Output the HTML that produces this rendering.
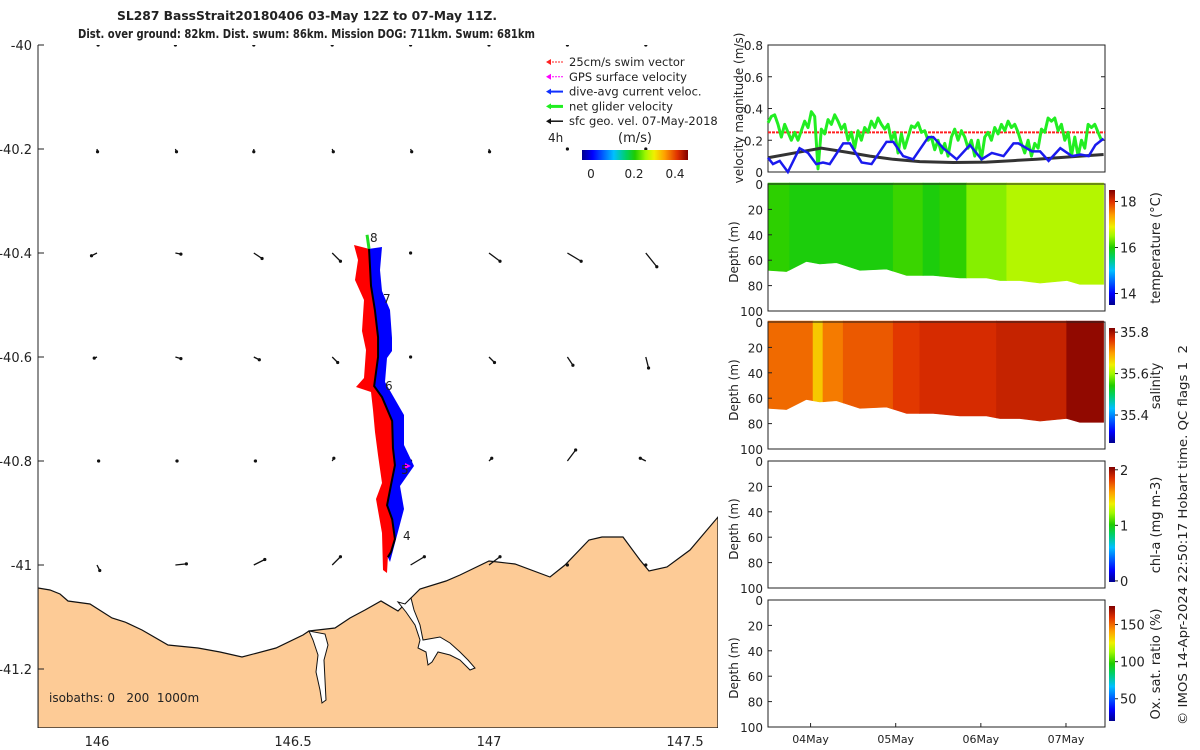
<!DOCTYPE html>
<html><head><meta charset="utf-8"><style>
html,body{margin:0;padding:0;background:#fff;}
svg{display:block;font-family:"DejaVu Sans","Liberation Sans",sans-serif;}
text{fill:#222;white-space:pre;}
</style></head><body>
<svg id="s" width="1200" height="750" viewBox="0 0 1200 750" xmlns="http://www.w3.org/2000/svg">
<defs>
<clipPath id="mapclip"><rect x="38" y="45" width="680" height="683"/></clipPath>
<linearGradient id="jetH" x1="0" x2="1" y1="0" y2="0">
<stop offset="0" stop-color="#00008f"/><stop offset="0.1" stop-color="#0000ff"/><stop offset="0.3" stop-color="#00c0ff"/><stop offset="0.42" stop-color="#00d060"/><stop offset="0.5" stop-color="#20cc00"/><stop offset="0.6" stop-color="#a0f800"/><stop offset="0.68" stop-color="#f0f000"/><stop offset="0.78" stop-color="#ffa000"/><stop offset="0.9" stop-color="#e03000"/><stop offset="1" stop-color="#800000"/>
</linearGradient>
<linearGradient id="jetV" x1="0" x2="0" y1="1" y2="0">
<stop offset="0" stop-color="#00008f"/><stop offset="0.1" stop-color="#0000ff"/><stop offset="0.3" stop-color="#00c0ff"/><stop offset="0.42" stop-color="#00d060"/><stop offset="0.5" stop-color="#20cc00"/><stop offset="0.6" stop-color="#a0f800"/><stop offset="0.68" stop-color="#f0f000"/><stop offset="0.78" stop-color="#ffa000"/><stop offset="0.9" stop-color="#e03000"/><stop offset="1" stop-color="#800000"/>
</linearGradient>
</defs>
<text x="117" y="20" font-size="12" font-weight="bold" textLength="380" lengthAdjust="spacingAndGlyphs">SL287 BassStrait20180406 03-May 12Z to 07-May 11Z.</text>
<text x="78" y="38" font-size="12" font-weight="bold" textLength="457" lengthAdjust="spacingAndGlyphs">Dist. over ground: 82km. Dist. swum: 86km. Mission DOG: 711km. Swum: 681km</text>
<g id="map"></g>
<g id="right"></g>
<text transform="translate(1187,725) rotate(-90)" font-size="12" textLength="380" lengthAdjust="spacingAndGlyphs">© IMOS 14-Apr-2024 22:50:17 Hobart time. QC flags 1  2</text>
</svg>
<script>
// ---------- data ----------
const mapLonTicks=[146,146.5,147,147.5];
const mapLatTicks=[-40,-40.2,-40.4,-40.6,-40.8,-41,-41.2];
const gridLons=[146,146.2,146.4,146.6,146.8,147,147.2,147.4];
const gridLats=[-40,-40.2,-40.4,-40.6,-40.8,-41];
const gridU=[[0.02,0,0,0,0,0,0,0],[0.01,0.02,0,0.02,0.02,0.01,0,0],[-0.1,0.1,0.15,0.15,0,0.2,0.25,0.2],[-0.05,0.1,0.1,0.1,0,0.1,0.1,0.05],[0.03,0.03,0.03,0.03,0,0.05,0.15,-0.1],[0.05,0.2,0.2,0.15,0.25,0.2,0,0]];
const gridV=[[0,0,0,0,0,0,0,0],[-0.05,-0.05,-0.05,-0.05,-0.05,-0.05,0,0],[-0.05,-0.02,-0.1,-0.15,0,-0.15,-0.15,-0.25],[-0.02,-0.03,-0.05,-0.1,0,-0.1,-0.15,-0.2],[0,0,0,0.05,0,0.05,0.2,0.05],[-0.1,0.02,0.1,0.15,0.15,0.15,0,0]];
const trackLon=[146.694,146.699,146.709,146.717,146.717,146.707,146.727,146.753,146.755,146.760,146.750,146.740,146.753,146.760,146.750,146.742];
const trackLat=[-40.392,-40.463,-40.510,-40.562,-40.600,-40.656,-40.677,-40.723,-40.775,-40.808,-40.846,-40.885,-40.912,-40.950,-40.975,-40.985];
const velHours=[];for(let i=0;i<101;i++)velHours.push(i*0.94);
const netVel=[0.31,0.35,0.36,0.3,0.22,0.3,0.25,0.2,0.25,0.2,0.26,0.32,0.28,0.38,0.35,0.02,0.27,0.24,0.33,0.3,0.36,0.32,0.27,0.3,0.2,0.25,0.15,0.26,0.2,0.28,0.25,0.32,0.28,0.34,0.3,0.27,0.3,0.2,0.25,0.12,0.24,0.15,0.22,0.29,0.28,0.31,0.25,0.26,0.2,0.22,0.14,0.2,0.12,0.18,0.1,0.22,0.27,0.2,0.26,0.22,0.15,0.2,0.1,0.2,0.08,0.22,0.25,0.2,0.28,0.24,0.3,0.26,0.32,0.28,0.3,0.25,0.18,0.12,0.2,0.1,0.18,0.15,0.27,0.25,0.34,0.32,0.34,0.26,0.3,0.2,0.25,0.1,0.22,0.1,0.2,0.15,0.3,0.28,0.3,0.25,0.2];
const daHours=[0,1.4,3.3,5.6,8.9,11.3,13.6,15.5,17.4,21.2,23.1,26.4,29.2,33.4,35.3,38.1,40.9,45.2,46.6,49.4,53.2,56.9,60.2,63.1,66.4,69.2,70.6,74.4,76.7,79.1,82.4,85.7,88.1,90.4,92.3,94.6];
const daVel=[0.09,0.05,0.07,0,0.15,0.12,0.05,0.06,0.05,0.18,0.18,0.06,0.05,0.19,0.19,0.1,0.08,0.22,0.22,0.15,0.08,0.17,0.08,0.12,0.1,0.18,0.18,0.13,0.13,0.07,0.15,0.1,0.11,0.1,0.17,0.21];
const geoHours=[0,7.5,15,22.1,28.7,35.3,42.8,52.2,61.6,69.2,75.7,85.1,94.6];
const geoVel=[0.09,0.12,0.15,0.125,0.1,0.08,0.065,0.06,0.062,0.072,0.08,0.095,0.11];
const swimVel=0.25;
const bottomHours=[0,5.2,10.8,14.6,19.3,25.9,33.4,39.1,46.6,54.1,61.6,65.4,71,76.7,84.2,87.9,94.6];
const bottomDepth=[68,69,61,63,62,68,67,72,72,74,74,76,76,78,76,79,79];
const tempEdges=[0,6.1,35.3,43.7,48.4,56,67.3,94.6];
const tempVals=[16.05,15.95,16.1,15.95,16.05,16.4,16.6];
const salEdges=[0,12.7,15.5,21.2,35.3,42.8,64.4,84.2,94.6];
const salVals=[35.73,35.67,35.72,35.74,35.76,35.77,35.78,35.81];
const dateTicks=[12,36,60,84];
const dateLabels=['04May','05May','06May','07May'];
const depthTicks=[0,20,40,60,80,100];
const velTicks=[0,0.2,0.4,0.6,0.8];
const NS='http://www.w3.org/2000/svg';
function mk(tag,attrs,parent){const e=document.createElementNS(NS,tag);for(const k in attrs)e.setAttribute(k,attrs[k]);parent.appendChild(e);return e;}
const stops=[[0,[0,0,143]],[0.1,[0,0,255]],[0.3,[0,192,255]],[0.42,[0,208,96]],[0.5,[32,204,0]],[0.6,[160,248,0]],[0.68,[240,240,0]],[0.78,[255,160,0]],[0.9,[224,48,0]],[1,[128,0,0]]];
function cmap(t){t=Math.max(0,Math.min(1,t));for(let i=1;i<stops.length;i++){if(t<=stops[i][0]){const a=stops[i-1],b=stops[i];const f=(t-a[0])/(b[0]-a[0]);const c=a[1].map((v,j)=>Math.round(v+(b[1][j]-v)*f));return 'rgb('+c.join(',')+')';}}return 'rgb(128,0,0)';}
// ---------- map ----------
const map=document.getElementById('map');
const lx=lon=>97+(lon-146)*392;
const ly=lat=>45+(-40-lat)*520;
const mg=mk('g',{'clip-path':'url(#mapclip)'},map);
const coast=[[38,588],[50,590],[60,594],[68,601],[90,604],[112,618],[125,622],[142,630],[168,645],[198,648],[220,652],[242,657],[276,648],[303,635],[309,631],[335,628],[350,618],[365,610],[381,601],[398,611],[405,604],[411,598],[420,589],[446,581],[460,575],[489,561],[515,564],[550,577],[565,565],[589,540],[602,537],[623,537],[640,560],[649,571],[667,567],[690,550],[718,517],[718,728],[38,728]];
const land=mk('polygon',{points:coast.map(p=>p.join(',')).join(' '),fill:'#fdcb96',stroke:'#111','stroke-width':1.2},mg);


const est1=[[309,631],[313,640],[318,655],[316,672],[320,690],[322,703],[326,700],[325,680],[324,660],[328,645],[325,634]];
const e1=mk('polygon',{points:est1.map(p=>p.join(',')).join(' '),fill:'#fff',stroke:'#111','stroke-width':1},mg);


const est2=[[398,602],[405,604],[411,598],[414,610],[420,625],[423,640],[440,637],[450,643],[460,652],[468,660],[475,668],[470,670],[460,660],[450,655],[438,652],[432,662],[428,665],[426,652],[418,648],[420,640],[415,625],[406,612]];
const e2=mk('polygon',{points:est2.map(p=>p.join(',')).join(' '),fill:'#fff',stroke:'#111','stroke-width':1},mg);


// velocity field
for(let r=0;r<gridLats.length;r++){for(let c=0;c<gridLons.length;c++){
 const x0=lx(gridLons[c]),y0=ly(gridLats[r]);const u=gridU[r][c],v=gridV[r][c];
 const x1=x0+u*55,y1=y0-v*55;
 const g=mk('g',{},mg);
 
 
 mk('line',{x1:x0,y1:y0,x2:x1,y2:y1,stroke:'#111','stroke-width':1.3},g);
 mk('circle',{cx:x1,cy:y1,r:1.6,fill:'#111'},g);
}}
// track bands
const tx=trackLon.map(lx),ty=trackLat.map(ly);
const red=[[354,245],[358,260],[355,280],[364,300],[362,331],[366,350],[364,378],[356,387],[371,392],[373,410],[375,432],[378,455],[382,483],[376,499],[382,533],[383,570],[387,573]];
const blue=[[382,247],[380,270],[382,291],[390,310],[392,338],[392,351],[387,358],[385,382],[404,415],[404,445],[414,466],[400,486],[404,509],[395,543],[390,562]];
const back=tx.map((x,i)=>[x,ty[i]]).reverse();
const rp=mk('polygon',{points:red.concat(back).map(p=>p.join(',')).join(' '),fill:'#ff0000'},mg);


const bp=mk('polygon',{points:blue.concat(back).map(p=>p.join(',')).join(' '),fill:'#0000ff'},mg);


mk('line',{x1:tx[0],y1:ty[0],x2:tx[0]-2,y2:ty[0]-14,stroke:'#22dd22','stroke-width':3},mg);
mk('path',{d:'M405,463 l6,3 l-6,3 z',fill:'#ff00ff'},mg);
const tr=mk('polyline',{points:tx.map((x,i)=>x+','+ty[i]).join(' '),fill:'none',stroke:'#000','stroke-width':2},mg);


[['8',370,242],['7',383,303],['6',385,390],['5',401,474],['4',403,540]].forEach(d=>{const t=mk('text',{x:d[1],y:d[2],'font-size':12},mg);t.textContent=d[0];
 
 });
const iso=mk('text',{x:49,y:702,'font-size':12},map);iso.textContent='isobaths: 0   200  1000m';


mk('line',{x1:38,y1:45,x2:38,y2:728,stroke:'#222','stroke-width':1},map);
mapLatTicks.forEach(v=>{const y=ly(v);mk('line',{x1:38,y1:y,x2:44,y2:y,stroke:'#222'},map);const t=mk('text',{x:32,y:y+5,'text-anchor':'end','font-size':13},map);t.textContent=String(v);
 
 });
mapLonTicks.forEach(v=>{const x=lx(v);const t=mk('text',{x:x,y:746,'text-anchor':'middle','font-size':13},map);t.textContent=String(v);
 
 });
// legend
const leg=mk('g',{},map);


[['25cm/s swim vector','#ff2020',1],['GPS surface velocity','#ff00ff',1],['dive-avg current veloc.','#1030ff',2],['net glider velocity','#20ee20',3],['sfc geo. vel. 07-May-2018','#111',1.5]].forEach((e,i)=>{
 const y=62+i*14.8;
 mk('line',{x1:549,y1:y,x2:563,y2:y,stroke:e[1],'stroke-width':e[2],'stroke-dasharray':i<2?'2,1':''},leg);
 mk('path',{d:'M546,'+y+' l5,-3 l0,6 z',fill:e[1]},leg);
 const t=mk('text',{x:569,y:y+4,'font-size':11.5},leg);t.textContent=e[0];
 
 
});
const fh=mk('text',{x:548,y:142,'font-size':12},leg);fh.textContent='4h';
const ms=mk('text',{x:635,y:142,'text-anchor':'middle','font-size':13},leg);ms.textContent='(m/s)';
mk('rect',{x:582,y:150,width:106,height:10,fill:'url(#jetH)'},leg);
[['0',591],['0.2',634],['0.4',675]].forEach(d=>{const t=mk('text',{x:d[1],y:178,'text-anchor':'middle','font-size':12},leg);t.textContent=d[0];});
// ---------- right panels ----------
const R=document.getElementById('right');
const X0=768,X1=1105;
const hx=h=>X0+h*(X1-X0)/95;
function axes(top,bot,name){
 const g=mk('g',{},R);
 
 
 mk('rect',{x:X0,y:top,width:X1-X0,height:bot-top,fill:'none',stroke:'#222','stroke-width':1},g);
 return g;}
// velocity
const vy=v=>172-v*158.75;
const vg=axes(45,172,'velocity-panel');
velTicks.forEach(v=>{const y=vy(v);mk('line',{x1:X0,y1:y,x2:X0+4,y2:y,stroke:'#222'},vg);mk('line',{x1:X1,y1:y,x2:X1-4,y2:y,stroke:'#222'},vg);const t=mk('text',{x:X0-5,y:y+5,'text-anchor':'end','font-size':12},vg);t.textContent=String(v);});
const vt=mk('text',{transform:'translate(743,108) rotate(-90)','text-anchor':'middle','font-size':12},vg);vt.textContent='velocity magnitude (m/s)';
const sw=mk('line',{x1:X0,y1:vy(swimVel),x2:X1,y2:vy(swimVel),stroke:'#ff2020','stroke-width':2,'stroke-dasharray':'3,1'},vg);


const gl=mk('polyline',{points:velHours.map((h,i)=>hx(h)+','+vy(netVel[i])).join(' '),fill:'none',stroke:'#22ee22','stroke-width':3,'stroke-linejoin':'round'},vg);


const gd=mk('polyline',{points:geoHours.map((h,i)=>hx(h)+','+vy(geoVel[i])).join(' '),fill:'none',stroke:'#333','stroke-width':3},vg);


const bl=mk('polyline',{points:daHours.map((h,i)=>hx(h)+','+vy(daVel[i])).join(' '),fill:'none',stroke:'#1a1aee','stroke-width':2.5},vg);


// depth panels
function depthPanel(top,name,cbLabel,cbTicks,cbMin,cbMax,edges,vals){
 const bot=top+127;const dy=d=>top+d*1.27;
 const g=axes(top,bot,name);
 if(edges){
  const bd=h=>{for(let k=1;k<bottomHours.length;k++){if(h<=bottomHours[k]){const f=(h-bottomHours[k-1])/(bottomHours[k]-bottomHours[k-1]);return bottomDepth[k-1]+(bottomDepth[k]-bottomDepth[k-1])*f;}}return bottomDepth[bottomDepth.length-1];};
  edges.slice(0,-1).forEach((e,i)=>{
   const h0=e,h1=edges[i+1];const pts=[[hx(h0),top-1],[hx(h1),top-1]];
   const hs=[h1];bottomHours.forEach(h=>{if(h<h1&&h>h0)hs.push(h);});hs.sort((a,b)=>b-a);hs.push(h0);
   hs.forEach(h=>pts.push([hx(h),dy(bd(h))]));
   const col=cmap((vals[i]-cbMin)/(cbMax-cbMin));
   const p=mk('polygon',{points:pts.map(q=>q.join(',')).join(' '),fill:col,stroke:col,'stroke-width':0.6},g);
   
   
  });
  mk('rect',{x:X0,y:top,width:X1-X0,height:127,fill:'none',stroke:'#222'},g);
 }
 depthTicks.forEach(d=>{const y=dy(d);mk('line',{x1:X0,y1:y,x2:X0+4,y2:y,stroke:'#222'},g);const t=mk('text',{x:X0-5,y:y+5,'text-anchor':'end','font-size':12},g);t.textContent=String(d);});
 const yl=mk('text',{transform:'translate(738,'+(top+68)+') rotate(-90)','text-anchor':'middle','font-size':12},g);yl.textContent='Depth (m)';
 const cb=mk('rect',{x:1109,y:top+6,width:6,height:115,fill:'url(#jetV)'},g);
 
 
 cbTicks.forEach(v=>{const y=top+121-(v-cbMin)/(cbMax-cbMin)*115;mk('line',{x1:1115,y1:y,x2:1118,y2:y,stroke:'#222'},g);const t=mk('text',{x:1120,y:y+5,'font-size':13},g);t.textContent=String(v);});
 const cl=mk('text',{transform:'translate(1160,'+(top+64)+') rotate(-90)','text-anchor':'middle','font-size':13},g);cl.textContent=cbLabel;
 return g;}
depthPanel(184,'temperature-panel','temperature (°C)',[14,16,18],13.5,18.5,tempEdges,tempVals);
depthPanel(322,'salinity-panel','salinity',[35.4,35.6,35.8],35.265,35.82,salEdges,salVals);
depthPanel(461,'chlorophyll-panel','chl-a (mg m-3)',[0,1,2],-0.02,2.05,null,null);
depthPanel(600,'oxygen-panel','Ox. sat. ratio (%)',[50,100,150],20,175,null,null);
dateTicks.forEach((h,i)=>{const x=hx(h);mk('line',{x1:x,y1:727,x2:x,y2:723,stroke:'#222'},R);const t=mk('text',{x:x,y:743,'text-anchor':'middle','font-size':11},R);t.textContent=dateLabels[i];
 
 });
</script>
</body></html>
